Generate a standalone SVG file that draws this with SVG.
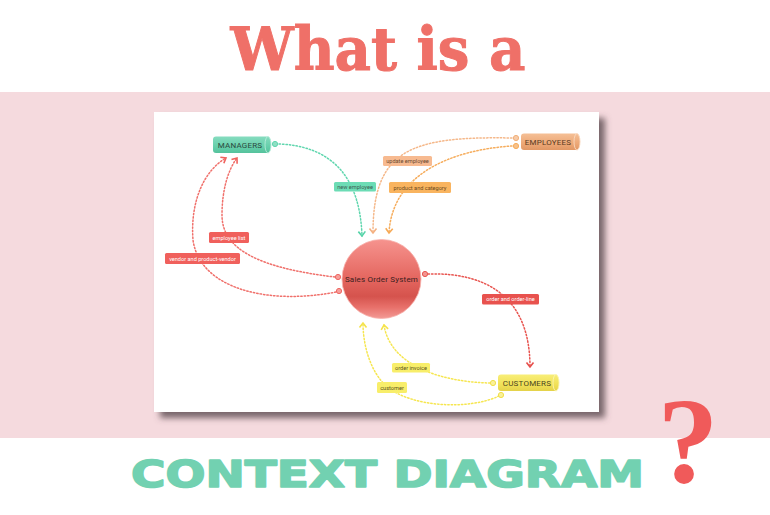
<svg xmlns="http://www.w3.org/2000/svg" width="770" height="515" viewBox="0 0 770 515">
<style>
  .lbl{font-family:Roboto,"Liberation Sans",sans-serif;font-size:5.6px;text-anchor:middle;dominant-baseline:central}
  .nd{font-family:Roboto,"Liberation Sans",sans-serif;font-size:8px;text-anchor:middle;dominant-baseline:central;letter-spacing:0.2px}
  .cn{fill:none;stroke-width:1.5;stroke-dasharray:1.4 2;stroke-linecap:round}
  .port{stroke-width:1}
</style>
<defs>
  <filter id="sh" x="-10%" y="-10%" width="125%" height="130%">
    <feDropShadow dx="6" dy="6" stdDeviation="3" flood-color="#5a4a50" flood-opacity="0.8"/>
  </filter>
  <linearGradient id="gCirc" x1="0" y1="0" x2="0" y2="1">
    <stop offset="0" stop-color="#f6938e"/>
    <stop offset="0.5" stop-color="#e4665f"/>
    <stop offset="0.72" stop-color="#d5534d"/>
    <stop offset="0.86" stop-color="#e8716b"/>
    <stop offset="1" stop-color="#f39a95"/>
  </linearGradient>
  <linearGradient id="gMan" x1="0" y1="0" x2="0" y2="1">
    <stop offset="0" stop-color="#86dcbf"/>
    <stop offset="0.6" stop-color="#66cfab"/>
    <stop offset="1" stop-color="#55c29c"/>
  </linearGradient>
  <linearGradient id="gEmp" x1="0" y1="0" x2="0" y2="1">
    <stop offset="0" stop-color="#f5c096"/>
    <stop offset="0.6" stop-color="#eda877"/>
    <stop offset="1" stop-color="#e19865"/>
  </linearGradient>
  <linearGradient id="gCus" x1="0" y1="0" x2="0" y2="1">
    <stop offset="0" stop-color="#f8ee78"/>
    <stop offset="0.6" stop-color="#f1e158"/>
    <stop offset="1" stop-color="#e4d24a"/>
  </linearGradient>
  <marker id="aG" markerUnits="userSpaceOnUse" markerWidth="12" markerHeight="12" refX="0" refY="0" viewBox="-6 -6 12 12" orient="auto">
    <path d="M-4.5,-3.5 L0,0 L-4.5,3.5" fill="none" stroke="#55d3a8" stroke-width="1.6"/>
  </marker>
  <marker id="aO1" markerUnits="userSpaceOnUse" markerWidth="12" markerHeight="12" refX="0" refY="0" viewBox="-6 -6 12 12" orient="auto">
    <path d="M-4.5,-3.5 L0,0 L-4.5,3.5" fill="none" stroke="#f4b081" stroke-width="1.6"/>
  </marker>
  <marker id="aO2" markerUnits="userSpaceOnUse" markerWidth="12" markerHeight="12" refX="0" refY="0" viewBox="-6 -6 12 12" orient="auto">
    <path d="M-4.5,-3.5 L0,0 L-4.5,3.5" fill="none" stroke="#f6a955" stroke-width="1.6"/>
  </marker>
  <marker id="aR" markerUnits="userSpaceOnUse" markerWidth="12" markerHeight="12" refX="0" refY="0" viewBox="-6 -6 12 12" orient="auto">
    <path d="M-4.5,-3.5 L0,0 L-4.5,3.5" fill="none" stroke="#f0615c" stroke-width="1.6"/>
  </marker>
  <marker id="aR2" markerUnits="userSpaceOnUse" markerWidth="12" markerHeight="12" refX="0" refY="0" viewBox="-6 -6 12 12" orient="auto">
    <path d="M-4.5,-3.5 L0,0 L-4.5,3.5" fill="none" stroke="#e64f4b" stroke-width="1.6"/>
  </marker>
  <marker id="aY" markerUnits="userSpaceOnUse" markerWidth="12" markerHeight="12" refX="0" refY="0" viewBox="-6 -6 12 12" orient="auto">
    <path d="M-4.5,-3.5 L0,0 L-4.5,3.5" fill="none" stroke="#f5e34a" stroke-width="1.6"/>
  </marker>
</defs>

<!-- background -->
<rect x="0" y="0" width="770" height="515" fill="#ffffff"/>
<rect x="0" y="92" width="770" height="346" fill="#f5dade"/>

<text x="378" y="70" font-family="'DejaVu Serif','Liberation Serif',serif" font-weight="bold" font-size="60" fill="#ef7068" stroke="#ef7068" stroke-width="1" text-anchor="middle" textLength="295" lengthAdjust="spacingAndGlyphs">What is a</text>

<!-- panel -->
<rect x="154" y="112" width="445" height="300" fill="#ffffff" filter="url(#sh)"/>

<!-- connectors -->
<g id="connectors">
  <path class="cn" stroke="#5fd6ae" d="M279,144 C330,146 360,175 362,236" marker-end="url(#aG)"/>
  <path class="cn" stroke="#f5b88a" d="M512,138 C410,136 373,150 373,233" marker-end="url(#aO1)"/>
  <path class="cn" stroke="#f6ad5d" d="M512,146 C450,150 392,175 389,233" marker-end="url(#aO2)"/>
  <path class="cn" stroke="#f0706b" d="M335,277 C260,268 222,250 222,215 C222,190 228,170 237,158" marker-end="url(#aR)"/>
  <path class="cn" stroke="#f0706b" d="M336,292 C270,305 200,290 193,240 C190,200 205,170 226,158" marker-end="url(#aR)"/>
  <path class="cn" stroke="#e85550" d="M428,274 C490,272 530,300 530,367" marker-end="url(#aR2)"/>
  <path class="cn" stroke="#f6e650" d="M490,383 C440,382 390,365 384,325" marker-end="url(#aY)"/>
  <path class="cn" stroke="#f6e650" d="M499,396 C470,410 410,408 385,385 C370,370 363,345 363,323" marker-end="url(#aY)"/>
  <!-- ports -->
  <circle class="port" cx="275" cy="144" r="2.6" fill="#8fe0c4" stroke="#5fd6ae"/>
  <circle class="port" cx="516" cy="138" r="2.6" fill="#f8cba8" stroke="#f0b07a"/>
  <circle class="port" cx="516" cy="146" r="2.6" fill="#f8c28a" stroke="#f6ad5d"/>
  <circle class="port" cx="338" cy="277" r="2.6" fill="#f7a09c" stroke="#ee6661"/>
  <circle class="port" cx="339" cy="291" r="2.6" fill="#f7a09c" stroke="#ee6661"/>
  <circle class="port" cx="425" cy="274" r="2.6" fill="#f49591" stroke="#e85550"/>
  <circle class="port" cx="493" cy="383" r="2.6" fill="#faf19a" stroke="#f1df4a"/>
  <circle class="port" cx="501" cy="395" r="2.6" fill="#faf19a" stroke="#f1df4a"/>
  <!-- labels -->
  <g id="lbl-new-employee">
    <rect x="334" y="182" width="42" height="9.5" rx="1.5" fill="#6cdcb5"/>
    <text class="lbl" x="355" y="186.9" fill="#3d5d52">new employee</text>
  </g>
  <g id="lbl-update-employee">
    <rect x="383" y="156" width="49" height="10" rx="1.5" fill="#f7ba90"/>
    <text class="lbl" x="407.5" y="161.1" fill="#6b4a30">update employee</text>
  </g>
  <g id="lbl-product-category">
    <rect x="389" y="182" width="62" height="11" rx="1.5" fill="#f9b45f"/>
    <text class="lbl" x="420" y="187.6" fill="#6b4a20">product and category</text>
  </g>
  <g id="lbl-employee-list">
    <rect x="209" y="232" width="40" height="11" rx="1.5" fill="#f0605c"/>
    <text class="lbl" x="229" y="237.6" fill="#ffffff">employee list</text>
  </g>
  <g id="lbl-vendor">
    <rect x="165" y="253" width="75" height="11" rx="1.5" fill="#f0605c"/>
    <text class="lbl" x="202.5" y="258.6" fill="#ffffff">vendor and product-vendor</text>
  </g>
  <g id="lbl-order-line">
    <rect x="482" y="294" width="57" height="10.5" rx="1.5" fill="#e8524e"/>
    <text class="lbl" x="510.5" y="299.4" fill="#ffffff">order and order-line</text>
  </g>
  <g id="lbl-order-invoice">
    <rect x="392" y="363" width="38" height="9.5" rx="1.5" fill="#f8ee6a"/>
    <text class="lbl" x="411" y="367.9" fill="#5a5520">order invoice</text>
  </g>
  <g id="lbl-customer">
    <rect x="377" y="382" width="30" height="11" rx="1.5" fill="#f8ee6a"/>
    <text class="lbl" x="392" y="387.6" fill="#5a5520">customer</text>
  </g>
</g>

<!-- nodes -->
<g id="managers">
  <path d="M216,136.5 H268 A3.5,8.3 0 0 1 268,153 H216 A3,3 0 0 1 213,150 V139.5 A3,3 0 0 1 216,136.5 Z" fill="url(#gMan)"/>
  <ellipse cx="268" cy="144.75" rx="3" ry="8.25" fill="none" stroke="#b5ecd9" stroke-width="0.9"/>
  <text class="nd" x="240" y="145" fill="#2c4a40">MANAGERS</text>
</g>
<g id="employees">
  <path d="M524,133.5 H577 A3.5,8.3 0 0 1 577,150 H524 A3,3 0 0 1 521,147 V136.5 A3,3 0 0 1 524,133.5 Z" fill="url(#gEmp)"/>
  <ellipse cx="577" cy="141.75" rx="3" ry="8.25" fill="none" stroke="#f9d9bf" stroke-width="0.9"/>
  <text class="nd" x="548" y="142" fill="#5a3a22">EMPLOYEES</text>
</g>
<g id="customers">
  <path d="M501,374.5 H556 A3.5,8.3 0 0 1 556,391 H501 A3,3 0 0 1 498,388 V377.5 A3,3 0 0 1 501,374.5 Z" fill="url(#gCus)"/>
  <ellipse cx="556" cy="382.75" rx="3" ry="8.25" fill="none" stroke="#fbf4b0" stroke-width="0.9"/>
  <text class="nd" x="527" y="383" fill="#4a4520">CUSTOMERS</text>
</g>
<g id="sales-order-system">
  <circle cx="381.5" cy="279" r="39.5" fill="url(#gCirc)" stroke="#f7b0ab" stroke-width="0.8"/>
  <text class="nd" x="381.5" y="279" fill="#3a2020" font-size="8.4" letter-spacing="0">Sales Order System</text>
</g>

<text x="131" y="487" font-family="'DejaVu Sans','Liberation Sans',sans-serif" font-weight="bold" font-size="37" fill="#72d1b1" stroke="#72d1b1" stroke-width="1.6" stroke-linejoin="round" textLength="513" lengthAdjust="spacingAndGlyphs">CONTEXT DIAGRAM</text>
<text x="688" y="482" font-family="'Liberation Serif','DejaVu Serif',serif" font-weight="bold" font-size="122" fill="#f05a5a" text-anchor="middle">?</text>
</svg>
